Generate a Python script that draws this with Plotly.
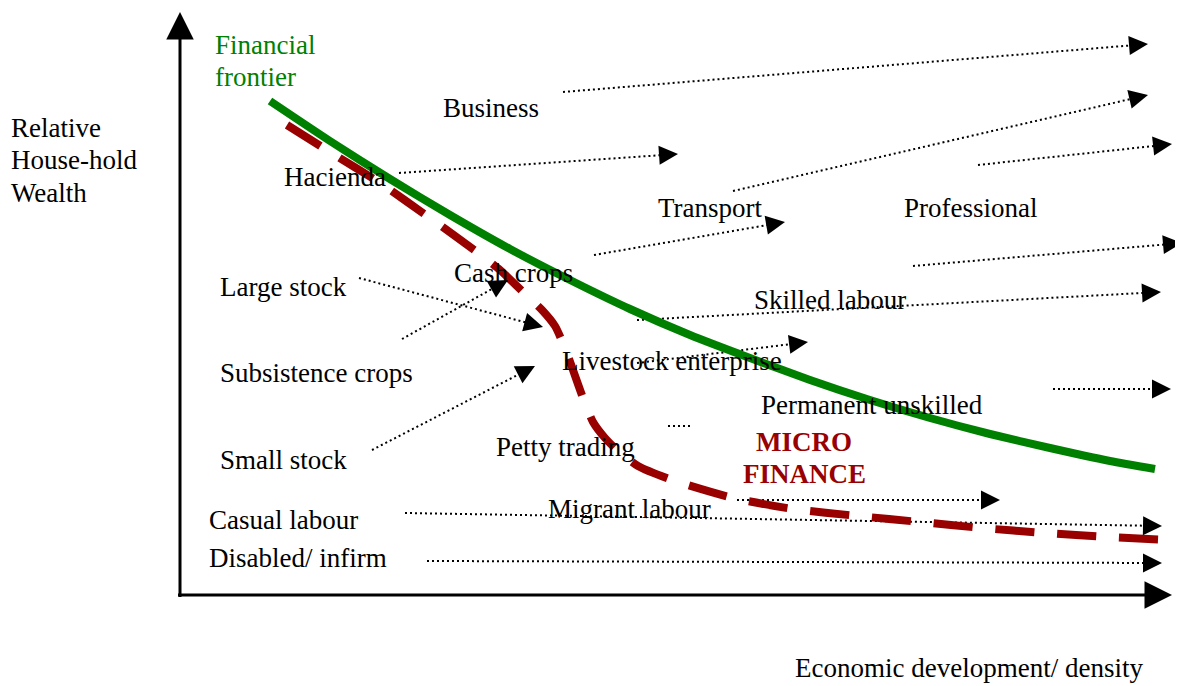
import math
import plotly.graph_objects as go

W, H = 1183, 686
PAGE_MARGIN = 8  # default body margin of the html page
TEXT_PAD = 3     # annotation box padding to compensate for left-anchored text

# Financial frontier curve (green)
frontier_x = [270, 330, 390, 450, 510, 570, 630, 690, 750, 810, 870, 930, 990, 1050, 1110, 1155]
frontier_y = [101, 141, 179, 215, 249, 280, 309, 335, 358, 380, 400, 418, 434, 448, 461, 469]

# Micro-finance frontier curve (dark red dashed)
mf_x = [287, 330, 380, 430, 477, 500, 523, 542, 555, 565, 573, 583, 593, 605, 617, 638, 672, 733, 793, 858, 920, 982, 1045, 1107, 1170]
mf_y = [125, 152, 183, 218, 252, 270, 292, 310, 326, 348, 370, 398, 422, 438, 450, 466, 480, 498, 509, 516, 522, 528, 533, 537, 540]

# Dotted transition arrows: start -> tip
arrow_x0 = [563, 399, 733, 978, 594, 913, 637, 637, 1053, 359, 402, 372, 737, 405, 427]
arrow_y0 = [92, 173, 191, 165, 255, 266, 320, 363, 389, 278, 339, 450, 500, 513, 561]
arrow_x1 = [1148, 678, 1148, 1172, 785, 1182, 1161, 808, 1171, 543, 508, 535, 1000, 1162, 1162]
arrow_y1 = [44, 154, 95, 144, 222, 243, 292, 342, 389, 327, 280, 366, 500, 526, 563]

# short dotted segment
short_x = [668, 693]
short_y = [426, 426]

# Activity labels (left edge, vertical centre)
label_text = ["Business", "Hacienda", "Transport", "Professional", "Large stock", "Cash crops",
              "Skilled labour", "Subsistence crops", "Livestock enterprise", "Permanent unskilled",
              "Small stock", "Petty trading", "Casual labour", "Migrant labour", "Disabled/ infirm"]
label_x = [444, 285, 659, 905, 221, 455, 755, 221, 563, 762, 221, 497, 210, 549, 210]
label_y = [108, 177, 208, 208, 287, 273, 300, 373, 361, 405, 460, 447, 520, 509, 558]

# Axis titles
ylabel_lines = ["Relative", "House-hold", "Wealth"]
ylabel_x = 12
ylabel_y = [128, 160, 193]
xlabel_text = "Economic development/ density"
xlabel_x, xlabel_y = 797, 668

frontier_lines = ["Financial", "frontier"]
frontier_lbl_x = 216
frontier_lbl_y = [45, 77]

micro_lines = ["MICRO", "FINANCE"]
micro_x = 804
micro_y = [442, 474]

# Axes geometry
axis_origin = (180, 595)
y_axis_tip = (180, 12)
x_axis_tip = (1172, 595)

FONT = "Liberation Serif"
FS = 27
GREEN = "#008000"
RED = "#990000"

fig = go.Figure()

# axes lines
fig.add_trace(go.Scatter(x=[axis_origin[0], y_axis_tip[0]], y=[axis_origin[1] + 2, y_axis_tip[1] + 20],
                         mode="lines", line=dict(color="black", width=3), hoverinfo="skip"))
fig.add_trace(go.Scatter(x=[axis_origin[0] - 2, x_axis_tip[0] - 20], y=[axis_origin[1], x_axis_tip[1]],
                         mode="lines", line=dict(color="black", width=3), hoverinfo="skip"))
for tip in (y_axis_tip, x_axis_tip):
    dx, dy = tip[0] - axis_origin[0], tip[1] - axis_origin[1]
    L = math.hypot(dx, dy)
    ux, uy = dx / L, dy / L
    fig.add_annotation(x=tip[0], y=tip[1], ax=tip[0] - 18 * ux, ay=tip[1] - 18 * uy,
                       xref="x", yref="y", axref="x", ayref="y", text="", showarrow=True,
                       arrowhead=2, arrowsize=2.75, arrowwidth=2, arrowcolor="black")

# dotted arrows
for x0, y0, x1, y1 in zip(arrow_x0, arrow_y0, arrow_x1, arrow_y1):
    dx, dy = x1 - x0, y1 - y0
    L = math.hypot(dx, dy)
    ux, uy = dx / L, dy / L
    fig.add_trace(go.Scatter(x=[x0, x1 - 10 * ux], y=[y0, y1 - 10 * uy], mode="lines",
                             line=dict(color="black", width=2, dash="2px,3px"), hoverinfo="skip"))
    fig.add_annotation(x=x1, y=y1, ax=x1 - 14 * ux, ay=y1 - 14 * uy,
                       xref="x", yref="y", axref="x", ayref="y", text="", showarrow=True,
                       arrowhead=2, arrowsize=1.9, arrowwidth=2, arrowcolor="black")

fig.add_trace(go.Scatter(x=short_x, y=short_y, mode="lines",
                         line=dict(color="black", width=2, dash="2px,3px"), hoverinfo="skip"))

# curves
fig.add_trace(go.Scatter(x=frontier_x, y=frontier_y, mode="lines",
                         line=dict(color=GREEN, width=8, shape="spline", smoothing=0.6), hoverinfo="skip"))
fig.add_trace(go.Scatter(x=mf_x, y=mf_y, mode="lines",
                         line=dict(color=RED, width=8, dash="39px,23px", shape="spline", smoothing=0.6),
                         hoverinfo="skip"))

def txt(x, y, s, color="black", bold=False, anchor="left", pad=1):
    fig.add_annotation(x=x - (TEXT_PAD if anchor == "left" else 0), y=y, xref="x", yref="y",
                       text=f"<b>{s}</b>" if bold else s, borderpad=pad,
                       showarrow=False, xanchor=anchor, yanchor="middle",
                       font=dict(family=FONT, size=FS, color=color))

for s, x, y in zip(label_text, label_x, label_y):
    txt(x, y, s)
for s, y in zip(ylabel_lines, ylabel_y):
    txt(ylabel_x, y, s)
txt(xlabel_x, xlabel_y, xlabel_text, pad=0)
for s, y in zip(frontier_lines, frontier_lbl_y):
    txt(frontier_lbl_x, y, s, color=GREEN)
for s, y in zip(micro_lines, micro_y):
    txt(micro_x, y, s, color=RED, bold=True, anchor="center")

# the page puts the figure 8px from the top-left corner; shift ranges so that
# coordinates above are window pixels
fig.update_layout(
    width=W - PAGE_MARGIN, height=H - PAGE_MARGIN, margin=dict(l=0, r=0, t=0, b=0),
    paper_bgcolor="white", plot_bgcolor="white", showlegend=False,
    xaxis=dict(range=[PAGE_MARGIN, W], visible=False, fixedrange=True),
    yaxis=dict(range=[H, PAGE_MARGIN], visible=False, fixedrange=True),
)

fig.write_html("out.html", config={"displayModeBar": False})
